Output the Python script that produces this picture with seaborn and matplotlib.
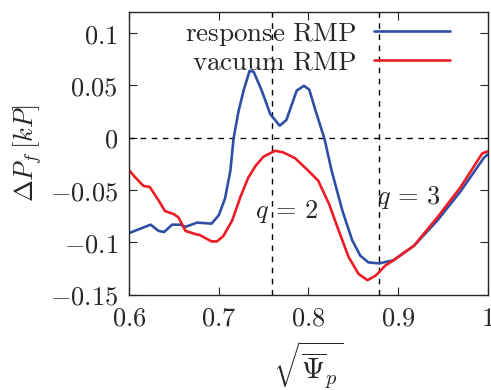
import numpy as np
import pandas as pd
import matplotlib
matplotlib.use("Agg")
import matplotlib.pyplot as plt
import seaborn as sns
from matplotlib.lines import Line2D

# --- data ---
resp_x = [0.600, 0.612, 0.624, 0.633, 0.639, 0.648, 0.657, 0.663, 0.676, 0.692, 0.700,
          0.707, 0.713, 0.7165, 0.722, 0.728, 0.7345, 0.739, 0.748, 0.7575, 0.768, 0.7755,
          0.787, 0.795, 0.801, 0.808, 0.818, 0.826, 0.838, 0.849, 0.858, 0.867,
          0.879, 0.895, 0.918, 0.944, 0.970, 0.996, 1.000]
resp_y = [-0.091, -0.087, -0.083, -0.089, -0.090, -0.083, -0.083, -0.085, -0.081, -0.082, -0.074,
          -0.058, -0.0315, -0.001, 0.025, 0.046, 0.064, 0.063, 0.045, 0.0226, 0.0115, 0.017,
          0.045, 0.0496, 0.046, 0.026, -0.001, -0.0315, -0.0697, -0.098, -0.1126, -0.119,
          -0.120, -0.117, -0.103, -0.079, -0.051, -0.019, -0.016]

vac_x = [0.600, 0.607, 0.616, 0.623, 0.633, 0.640, 0.650, 0.655, 0.663, 0.674, 0.679,
         0.692, 0.698, 0.705, 0.715, 0.724, 0.733, 0.741, 0.750, 0.763, 0.772, 0.785,
         0.800, 0.811, 0.823, 0.834, 0.845, 0.856, 0.866, 0.875, 0.886, 0.895,
         0.918, 0.944, 0.970, 0.994, 1.000]
vac_y = [-0.031, -0.038, -0.046, -0.047, -0.060, -0.070, -0.073, -0.076, -0.089, -0.092, -0.093,
         -0.099, -0.099, -0.094, -0.079, -0.057, -0.038, -0.027, -0.018, -0.0124, -0.014, -0.0194,
         -0.0315, -0.041, -0.063, -0.089, -0.114, -0.130, -0.136, -0.1317, -0.122, -0.117,
         -0.103, -0.076, -0.047, -0.015, -0.013]

series_names = ["response RMP", "vacuum RMP"]
series_colors = ["#2f4fa6", "#ee1c25"]
q_surfaces = [0.759, 0.879]
q_labels = [r"$q\,=\,2$", r"$q\,=\,3$"]

xticks = [0.6, 0.7, 0.8, 0.9, 1.0]
xtick_labels = ["$0.6$", "$0.7$", "$0.8$", "$0.9$", "$1$"]
yticks = [-0.15, -0.1, -0.05, 0.0, 0.05, 0.1]
ytick_labels = ["$-0.15$", "$-0.1$", "$-0.05$", "$0$", "$0.05$", "$0.1$"]

df = pd.concat([
    pd.DataFrame({"x": resp_x, "y": resp_y, "case": series_names[0]}),
    pd.DataFrame({"x": vac_x, "y": vac_y, "case": series_names[1]}),
])

sns.set_style("ticks")
plt.rcParams["mathtext.fontset"] = "cm"
plt.rcParams["font.family"] = ["serif"]
plt.rcParams["font.serif"] = ["DejaVu Serif"]

fig = plt.figure(figsize=(4.91, 3.90), dpi=100)
ax = fig.add_axes([0.263, 0.244, 0.730, 0.725])

sns.lineplot(data=df, x="x", y="y", hue="case", hue_order=series_names,
             palette=series_colors, linewidth=1.9, ax=ax, legend=False, sort=False)

# reference lines
ax.axhline(0, color="black", lw=1.0, ls=(0, (4, 4)), zorder=1)
for xq in q_surfaces:
    ax.axvline(xq, color="black", lw=1.0, ls=(0, (4, 4)), zorder=1)

ax.text(0.740, -0.077, q_labels[0], fontsize=19, ha="left", va="baseline")
ax.text(0.877, -0.063, q_labels[1], fontsize=19, ha="left", va="baseline")

# legend (text on the left, line sample on the right)
handles = [Line2D([], [], color=c, lw=1.9) for c in series_colors]
labels = [r"$\mathrm{" + s.replace(" ", r"\ ") + "}$" for s in series_names]
leg = ax.legend(handles, labels, loc="upper right", frameon=False,
                fontsize=19.5, markerfirst=False, handlelength=2.8,
                handletextpad=0.65, labelspacing=0.05, borderaxespad=0.0,
                bbox_to_anchor=(0.925, 1.012))

ax.set_xlim(0.6, 1.0)
ax.set_ylim(-0.15, 0.12)
ax.set_xticks(xticks)
ax.set_xticklabels(xtick_labels)
ax.set_yticks(yticks)
ax.set_yticklabels(ytick_labels)
ax.tick_params(direction="in", length=6, width=0.8, labelsize=19,
               top=True, right=True, pad=8)
for s in ax.spines.values():
    s.set_linewidth(1.0)
    s.set_visible(True)

ax.set_xlabel(r"$\sqrt{\overline{\Psi}_p}$", fontsize=21, labelpad=6)
ax.set_ylabel(r"$\Delta P_f\,[kP]$", fontsize=19, labelpad=4)

fig.savefig("out.png", dpi=100)
